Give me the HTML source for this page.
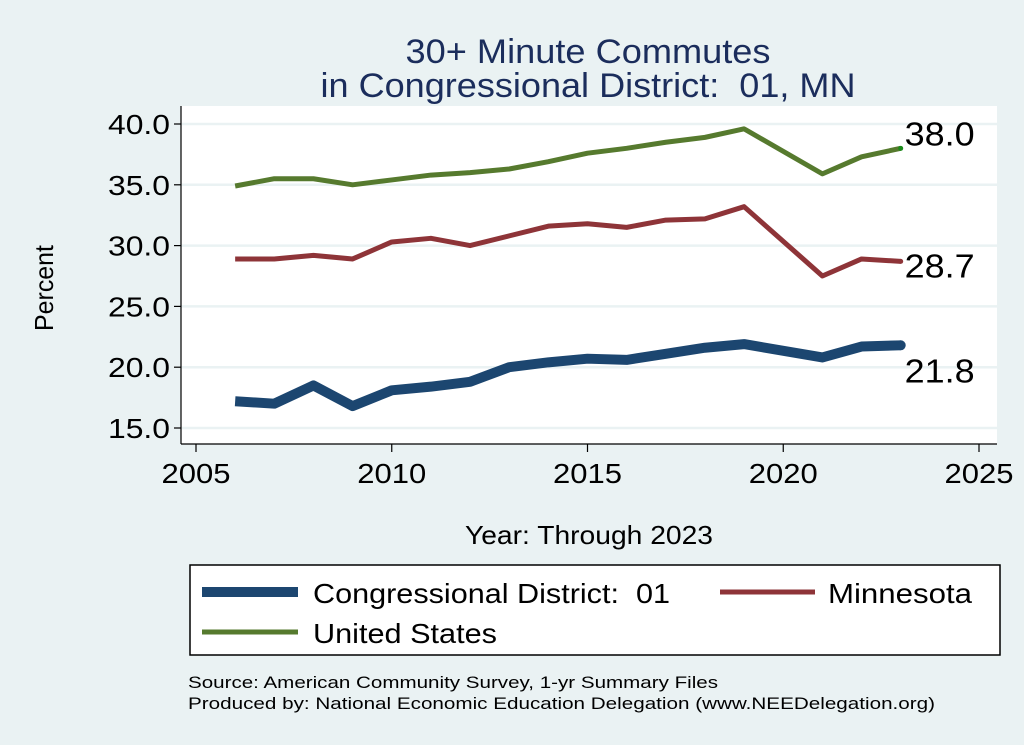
<!DOCTYPE html>
<html><head><meta charset="utf-8"><style>
body{margin:0;background:#eaf2f3;}
svg{display:block;font-family:"Liberation Sans",sans-serif;}
text{white-space:pre;}
</style></head><body>
<svg id="chart" xml:space="preserve" width="1024" height="745" viewBox="0 0 1024 745">
<rect x="0" y="0" width="1024" height="745" fill="#eaf2f3"/>
<text x="588" y="63" text-anchor="middle" font-size="34" textLength="365" lengthAdjust="spacingAndGlyphs" fill="#1b2d5c">30+ Minute Commutes</text>
<text x="588" y="97" text-anchor="middle" font-size="34" textLength="535" lengthAdjust="spacingAndGlyphs" fill="#1b2d5c">in Congressional District:  01, MN</text>
<rect x="181" y="106" width="816" height="338" fill="#fff"/>
<g id="grid"></g><g id="axes"></g><g id="series"></g>
<text transform="translate(53,288) rotate(-90)" text-anchor="middle" font-size="26" textLength="86" lengthAdjust="spacingAndGlyphs">Percent</text>
<text x="589" y="544" text-anchor="middle" font-size="26" textLength="248" lengthAdjust="spacingAndGlyphs">Year: Through 2023</text>
<g>
<rect x="190" y="565" width="810" height="90" fill="#fff" stroke="#000" stroke-width="1.5"/>
<line x1="202" y1="592" x2="298" y2="592" stroke="#1c4670" stroke-width="10"/>
<text x="313" y="603" font-size="28" textLength="357" lengthAdjust="spacingAndGlyphs">Congressional District:  01</text>
<line x1="720" y1="592" x2="815" y2="592" stroke="#8e3438" stroke-width="5"/>
<text x="828" y="603" font-size="28" textLength="144" lengthAdjust="spacingAndGlyphs">Minnesota</text>
<line x1="202" y1="632" x2="298" y2="632" stroke="#567a2e" stroke-width="5"/>
<text x="313" y="643" font-size="28" textLength="184" lengthAdjust="spacingAndGlyphs">United States</text>
</g>
<text x="188" y="688" font-size="17" textLength="530" lengthAdjust="spacingAndGlyphs">Source: American Community Survey, 1-yr Summary Files</text>
<text x="188" y="709" font-size="17" textLength="747" lengthAdjust="spacingAndGlyphs">Produced by: National Economic Education Delegation (www.NEEDelegation.org)</text>
</svg>
<script>
const years=[2006,2007,2008,2009,2010,2011,2012,2013,2014,2015,2016,2017,2018,2019,2021,2022,2023];
const district=[17.2,17.0,18.5,16.8,18.1,18.4,18.8,20.0,20.4,20.7,20.6,21.1,21.6,21.9,20.8,21.7,21.8];
const minnesota=[28.9,28.9,29.2,28.9,30.3,30.6,30.0,30.8,31.6,31.8,31.5,32.1,32.2,33.2,27.5,28.9,28.7];
const unitedStates=[34.9,35.5,35.5,35.0,35.4,35.8,36.0,36.3,36.9,37.6,38.0,38.5,38.9,39.6,35.9,37.3,38.0];
const yTicks=[15,20,25,30,35,40];
const xTicks=[2005,2010,2015,2020,2025];
const NS='http://www.w3.org/2000/svg';
const xs=v=>196+(v-2005)*(979-196)/20;
const ys=v=>428-(v-15)*(428-124)/25;
function mk(tag,attrs,parent){const e=document.createElementNS(NS,tag);for(const k in attrs)e.setAttribute(k,attrs[k]);parent.appendChild(e);return e;}
const grid=document.getElementById('grid'),axes=document.getElementById('axes'),ser=document.getElementById('series');
yTicks.forEach(t=>{
 const g=mk('line',{x1:181,x2:997,y1:ys(t),y2:ys(t),stroke:'#eaf2f3','stroke-width':2.5},grid);
 
 
 mk('line',{x1:174,x2:181,y1:ys(t),y2:ys(t),stroke:'#000','stroke-width':1.2},axes);
 const l=mk('text',{x:170,y:ys(t)+10,'text-anchor':'end','font-size':28,textLength:62,lengthAdjust:'spacingAndGlyphs'},axes);
 l.textContent=t.toFixed(1);
 
 
});
xTicks.forEach(t=>{
 mk('line',{x1:xs(t),x2:xs(t),y1:444,y2:452,stroke:'#000','stroke-width':1.2},axes);
 const l=mk('text',{x:xs(t),y:483,'text-anchor':'middle','font-size':28,textLength:69,lengthAdjust:'spacingAndGlyphs'},axes);
 l.textContent=t;
 
 
});
mk('line',{x1:181,x2:181,y1:106,y2:444,stroke:'#000','stroke-width':1.2},axes);
mk('line',{x1:181,x2:997,y1:444,y2:444,stroke:'#000','stroke-width':1.2},axes);
function line(vals,color,w,name,dot,dy){
 const p=mk('polyline',{points:years.map((y,i)=>xs(y)+','+ys(vals[i])).join(' '),fill:'none',stroke:color,'stroke-width':w,'stroke-linejoin':'round'},ser);
 
 
 const n=vals.length-1;
 mk('circle',{cx:xs(years[n]),cy:ys(vals[n]),r:w/2,fill:dot},ser);
 const t=mk('text',{x:xs(years[n])+4,y:ys(vals[n])+dy,'font-size':33,textLength:70,lengthAdjust:'spacingAndGlyphs'},ser);
 t.textContent=vals[n].toFixed(1);
 
 
}
line(unitedStates,'#567a2e',5,'us-line','#1a8a1a',-3);
line(minnesota,'#8e3438',5,'minnesota-line','#8e3438',16);
line(district,'#1c4670',10,'district-line','#1c4670',37);
</script>
</body></html>
